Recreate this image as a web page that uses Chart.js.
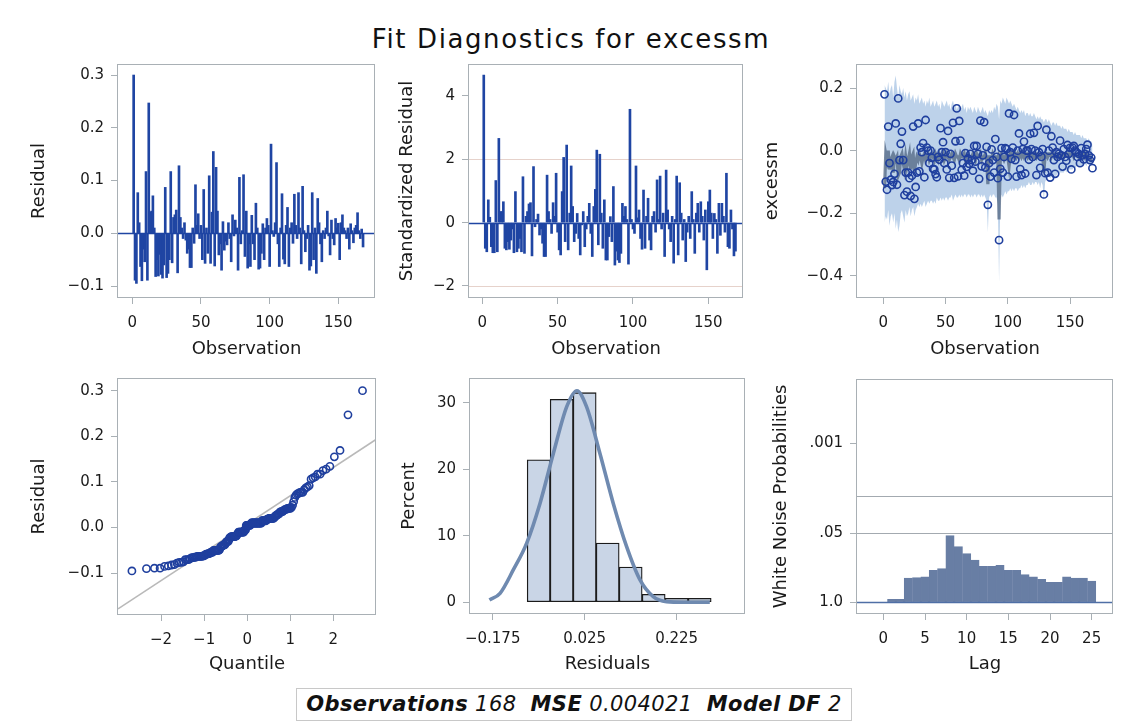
<!DOCTYPE html>
<html><head><meta charset="utf-8">
<script src="https://cdn.jsdelivr.net/npm/chart.js@4/dist/chart.umd.min.js"></script>
<style>
html,body{margin:0;padding:0;background:#fff;width:1128px;height:726px;overflow:hidden;position:relative;font-family:"DejaVu Sans",sans-serif;}
canvas{position:absolute;}
#title{position:absolute;left:0;width:1142px;top:24px;text-align:center;font-size:26px;color:#111;letter-spacing:1.6px;white-space:nowrap;}
#footer{position:absolute;left:296px;top:688px;width:556px;height:33px;border:1px solid #c8c8c8;box-sizing:border-box;font-size:21px;font-style:italic;line-height:31px;text-align:center;white-space:nowrap;color:#111;letter-spacing:0.4px;}
</style></head><body>
<div id="title">Fit Diagnostics for excessm</div>
<canvas id="c1"></canvas><canvas id="c2"></canvas><canvas id="c3"></canvas>
<canvas id="c4"></canvas><canvas id="c5"></canvas><canvas id="c6"></canvas>
<div id="footer"><b>Observations</b> 168&nbsp; <b>MSE</b> 0.004021&nbsp; <b>Model DF</b> 2</div>
<script>
// ---------------- DATA ----------------
const residual = [
0.300,-0.089,-0.095,0.077,0.020,-0.063,-0.090,-0.030,-0.054,0.117,
-0.089,0.247,0.040,0.042,0.071,0.010,-0.082,-0.050,-0.081,-0.040,
-0.078,-0.085,-0.060,0.087,-0.084,-0.076,-0.050,0.117,-0.056,0.030,
0.035,0.044,-0.075,0.128,0.030,0.010,-0.010,0.020,-0.013,-0.038,
-0.030,-0.065,-0.065,0.010,-0.019,0.092,0.015,0.037,-0.010,0.015,
-0.050,0.083,-0.057,0.010,-0.038,0.109,-0.057,0.040,0.155,-0.062,
0.125,0.042,-0.041,-0.020,-0.070,0.022,-0.032,-0.015,-0.022,0.020,
-0.010,-0.054,0.035,-0.005,0.025,0.010,-0.070,0.106,-0.020,0.005,
0.111,-0.044,0.042,-0.066,-0.020,-0.063,0.034,-0.020,-0.050,0.057,
0.010,-0.068,-0.066,-0.038,0.018,-0.050,0.010,0.028,0.015,-0.063,
0.169,0.005,-0.006,0.020,0.134,-0.020,-0.063,0.010,0.075,-0.049,
-0.058,0.015,0.049,-0.063,0.010,0.020,-0.019,0.074,0.015,-0.010,
0.077,0.010,-0.058,0.089,0.005,-0.035,-0.010,0.015,-0.070,-0.062,
0.077,-0.050,0.010,-0.076,0.066,0.020,-0.020,-0.054,0.005,-0.010,
0.010,0.042,-0.005,-0.041,0.025,-0.010,-0.022,0.028,0.010,0.019,
-0.050,0.020,0.035,0.010,0.005,-0.010,0.010,-0.030,0.018,0.005,
-0.018,0.010,0.015,0.039,0.005,-0.010,0.008,-0.026];

const stdResidual = [
4.66,-0.81,-0.92,0.72,0.17,-0.76,-0.95,-0.95,1.33,-0.92,
2.66,0.35,0.35,0.66,-0.81,-0.86,-0.60,-0.84,-0.55,-0.20,
-0.95,0.98,-0.92,-0.81,-0.50,-0.92,1.45,-0.97,0.20,0.35,
0.59,0.63,-1.05,1.77,-0.13,0.10,0.27,-0.39,-0.20,-0.65,
-1.07,-1.07,1.50,0.35,0.10,-0.34,0.63,0.20,1.56,-0.30,
-0.86,-1.02,0.98,2.06,-0.60,2.45,-0.86,0.30,1.79,0.51,
-0.60,-0.34,0.29,-0.50,-1.02,-0.07,0.35,-0.76,-0.20,0.20,
0.61,-0.34,-1.07,0.51,1.05,2.29,-0.70,2.16,0.30,-0.81,
0.72,-1.18,-1.18,-0.44,0.19,-0.60,1.14,-1.34,-0.90,-1.18,
-1.26,-0.97,0.61,0.20,0.51,0.10,-1.31,3.58,0.10,-0.20,
-0.34,1.79,0.15,0.40,-0.50,-0.84,1.03,-0.81,0.20,0.77,
-0.55,-0.86,0.20,0.35,-0.30,1.35,0.10,1.47,-0.20,0.30,
-1.07,1.66,0.40,-0.20,-0.60,0.20,-1.28,0.10,1.47,-1.02,
1.26,0.30,-0.55,0.10,-1.23,-0.30,0.20,-0.50,0.98,0.10,
-0.97,0.30,0.61,-0.30,0.66,0.20,-0.55,0.40,-1.49,0.66,
1.03,0.30,-0.50,0.29,0.10,-0.97,0.61,-0.40,0.61,0.20,
-0.30,1.56,-0.76,-0.81,0.40,-0.20,-1.05,-0.90];

const predicted = [
-0.12,-0.01,-0.03,0.00,-0.06,-0.03,-0.02,-0.07,-0.02,-0.03,
-0.02,-0.08,-0.07,-0.02,-0.01,-0.04,-0.06,-0.02,-0.05,-0.03,
-0.01,-0.06,-0.02,-0.01,-0.07,-0.04,-0.02,-0.03,-0.01,-0.02,
-0.04,-0.02,-0.01,-0.03,-0.02,-0.01,-0.03,-0.02,-0.01,-0.02,
-0.03,-0.01,-0.02,-0.03,-0.01,-0.02,-0.02,-0.01,-0.03,-0.02,
-0.01,-0.02,-0.03,-0.02,-0.01,-0.02,-0.03,-0.01,-0.02,-0.02,
-0.03,-0.01,-0.02,-0.02,-0.01,-0.03,-0.02,-0.01,-0.02,-0.03,
-0.02,-0.01,-0.02,-0.03,-0.01,-0.02,-0.02,-0.01,-0.03,-0.02,
-0.02,-0.01,-0.03,-0.107,-0.02,-0.02,-0.03,-0.01,-0.02,-0.02,
-0.03,-0.02,-0.22,-0.02,-0.01,-0.02,-0.03,-0.02,-0.01,-0.02,
-0.05,-0.01,-0.02,-0.01,-0.02,-0.01,-0.02,-0.01,-0.02,-0.01,
-0.02,-0.01,-0.02,-0.01,-0.01,-0.02,-0.01,-0.02,-0.01,-0.01,
-0.02,-0.01,-0.02,-0.01,-0.01,-0.02,-0.01,-0.01,-0.07,-0.01,
-0.01,-0.02,-0.01,-0.01,-0.02,-0.01,-0.01,-0.02,-0.01,-0.01,
-0.02,-0.01,-0.01,-0.01,-0.02,-0.01,-0.01,-0.01,-0.02,-0.01,
-0.01,-0.01,-0.02,-0.01,-0.01,-0.01,-0.02,-0.01,-0.01,-0.02,
-0.01,-0.02,-0.01,-0.02,-0.02,-0.02,-0.03,-0.03];

const bandUpper = [
0.21,0.20,0.19,0.22,0.18,0.20,0.21,0.17,0.22,0.24,
0.20,0.17,0.21,0.19,0.18,0.20,0.17,0.19,0.16,0.18,
0.19,0.16,0.17,0.18,0.15,0.17,0.16,0.18,0.15,0.16,
0.17,0.15,0.16,0.14,0.16,0.15,0.17,0.14,0.15,0.16,
0.14,0.15,0.16,0.14,0.15,0.13,0.16,0.15,0.14,0.15,
0.16,0.14,0.15,0.13,0.15,0.16,0.14,0.15,0.13,0.14,
0.15,0.13,0.14,0.15,0.13,0.14,0.12,0.14,0.13,0.14,
0.13,0.12,0.14,0.13,0.12,0.14,0.13,0.12,0.13,0.14,
0.12,0.13,0.12,0.11,0.13,0.12,0.13,0.12,0.14,0.13,
0.15,0.14,0.10,0.16,0.15,0.17,0.16,0.15,0.17,0.16,
0.15,0.16,0.15,0.14,0.15,0.14,0.13,0.14,0.13,0.12,
0.13,0.12,0.13,0.11,0.12,0.12,0.11,0.12,0.11,0.11,
0.12,0.11,0.10,0.11,0.10,0.11,0.10,0.10,0.09,0.10,
0.10,0.09,0.10,0.09,0.08,0.09,0.09,0.08,0.09,0.08,
0.08,0.08,0.07,0.08,0.07,0.07,0.07,0.06,0.07,0.06,
0.06,0.06,0.05,0.06,0.05,0.05,0.05,0.05,0.04,0.05,
0.04,0.04,0.04,0.03,0.04,0.03,0.03,0.02];

const bandLower = [
-0.23,-0.21,-0.22,-0.19,-0.24,-0.21,-0.20,-0.23,-0.20,-0.25,
-0.22,-0.26,-0.24,-0.20,-0.19,-0.21,-0.23,-0.19,-0.21,-0.20,
-0.18,-0.21,-0.19,-0.18,-0.21,-0.19,-0.18,-0.17,-0.18,-0.17,
-0.18,-0.17,-0.16,-0.18,-0.17,-0.16,-0.17,-0.16,-0.16,-0.17,
-0.16,-0.17,-0.15,-0.16,-0.16,-0.15,-0.16,-0.15,-0.16,-0.15,
-0.15,-0.16,-0.15,-0.15,-0.14,-0.16,-0.15,-0.14,-0.15,-0.15,
-0.14,-0.15,-0.14,-0.15,-0.14,-0.14,-0.15,-0.14,-0.14,-0.15,
-0.14,-0.15,-0.14,-0.14,-0.15,-0.14,-0.14,-0.15,-0.14,-0.15,
-0.14,-0.15,-0.16,-0.26,-0.15,-0.14,-0.15,-0.14,-0.14,-0.15,
-0.15,-0.17,-0.42,-0.16,-0.14,-0.15,-0.14,-0.13,-0.14,-0.13,
-0.13,-0.12,-0.13,-0.12,-0.13,-0.12,-0.12,-0.13,-0.12,-0.12,
-0.11,-0.12,-0.11,-0.12,-0.11,-0.11,-0.10,-0.11,-0.11,-0.10,
-0.11,-0.10,-0.10,-0.11,-0.10,-0.12,-0.10,-0.11,-0.16,-0.10,
-0.09,-0.09,-0.08,-0.09,-0.08,-0.09,-0.08,-0.08,-0.08,-0.07,
-0.08,-0.07,-0.07,-0.07,-0.07,-0.06,-0.07,-0.06,-0.06,-0.06,
-0.06,-0.06,-0.05,-0.06,-0.05,-0.05,-0.05,-0.05,-0.05,-0.05,
-0.05,-0.04,-0.05,-0.04,-0.04,-0.05,-0.04,-0.05];

const histBinCenters = [-0.075,-0.025,0.025,0.075,0.125,0.175,0.225,0.275];
const histPercent    = [21.4,30.5,31.5,8.9,5.3,1.2,0.6,0.6];
const normCurveX = [-0.182,-0.159,-0.130,-0.101,-0.072,-0.043,-0.014,0.008,0.029,0.058,0.087,0.116,0.145,0.174,0.203,0.240,0.297];
const normCurveY = [0.35,1.35,4.9,8.9,14.9,22.4,29.4,31.8,29.4,22.4,14.9,8.4,3.4,0.85,0.1,0.0,0.0];

const qqRefX = [-3.0, 2.99];
const qqRefY = [-0.178, 0.193];

const lags = [1,2,3,4,5,6,7,8,9,10,11,12,13,14,15,16,17,18,19,20,21,22,23,24,25];
const whiteNoiseP = [0.88,0.88,0.35,0.34,0.33,0.25,0.23,0.055,0.089,0.12,0.16,0.21,0.21,0.20,0.25,0.25,0.30,0.33,0.37,0.42,0.42,0.33,0.35,0.35,0.40];

const obsTicks = [0,50,100,150];           const obsLabels = ['0','50','100','150'];
const p1YTicks = [-0.1,0,0.1,0.2,0.3];     const p1YLabels = ['\u22120.1','0.0','0.1','0.2','0.3'];
const p2YTicks = [-2,0,2,4];               const p2YLabels = ['\u22122','0','2','4'];
const p3YTicks = [-0.4,-0.2,0,0.2];        const p3YLabels = ['\u22120.4','\u22120.2','0.0','0.2'];
const p4XTicks = [-2,-1,0,1,2];            const p4XLabels = ['\u22122','\u22121','0','1','2'];
const p5XTicks = [-0.175,0.025,0.225];     const p5XLabels = ['\u22120.175','0.025','0.225'];
const p5YTicks = [0,10,20,30];             const p5YLabels = ['0','10','20','30'];
const p6XTicks = [0,5,10,15,20,25];        const p6XLabels = ['0','5','10','15','20','25'];
const p6YTicks = [1,0.05,0.001];           const p6YLabels = ['1.0','.05','.001'];

// --------------- STYLE / HELPERS ---------------
const FRAME = '#a9b0b5';
const NEEDLE = '#1f45a3';
const CIRCLE = '#1f3f9e';
const TXT = '#1a1a1a';
const tickFont = {family:'DejaVu Sans', size:15};
const titleFont = {family:'DejaVu Sans', size:18};
const LH = 18*1.2;

const observations = residual.map((_, i) => i + 1);

function invNorm(p){
  const a=[-3.969683028665376e+01,2.209460984245205e+02,-2.759285104469687e+02,1.383577518672690e+02,-3.066479806614716e+01,2.506628277459239e+00];
  const b=[-5.447609879822406e+01,1.615858368580409e+02,-1.556989798598866e+02,6.680131188771972e+01,-1.328068155288572e+01];
  const c=[-7.784894002430293e-03,-3.223964580411365e-01,-2.400758277161838e+00,-2.549671010243726e+00,4.374664141464968e+00,2.938163982698783e+00];
  const d=[7.784695709041462e-03,3.224671290700398e-01,2.445134137142996e+00,3.754408661907416e+00];
  const pl=0.02425, ph=1-pl; let q,r;
  if(p<pl){q=Math.sqrt(-2*Math.log(p));return (((((c[0]*q+c[1])*q+c[2])*q+c[3])*q+c[4])*q+c[5])/((((d[0]*q+d[1])*q+d[2])*q+d[3])*q+1);}
  if(p<=ph){q=p-0.5;r=q*q;return (((((a[0]*r+a[1])*r+a[2])*r+a[3])*r+a[4])*r+a[5])*q/(((((b[0]*r+b[1])*r+b[2])*r+b[3])*r+b[4])*r+1);}
  q=Math.sqrt(-2*Math.log(1-p));return -(((((c[0]*q+c[1])*q+c[2])*q+c[3])*q+c[4])*q+c[5])/((((d[0]*q+d[1])*q+d[2])*q+d[3])*q+1);
}

const framePlugin = {
  id:'frame',
  beforeDatasetsDraw(chart, args, opts){
    const {ctx, chartArea:a} = chart;
    ctx.save();
    (opts.under||[]).forEach(h => {
      const y = Math.round(chart.scales.y.getPixelForValue(h.value)) + 0.5;
      ctx.strokeStyle = h.color; ctx.lineWidth = h.width || 1;
      ctx.beginPath(); ctx.moveTo(a.left, y); ctx.lineTo(a.right, y); ctx.stroke();
    });
    ctx.restore();
  },
  afterDatasetsDraw(chart, args, opts){
    const {ctx, chartArea:a} = chart;
    ctx.save();
    (opts.over||[]).forEach(h => {
      const y = Math.round(chart.scales.y.getPixelForValue(h.value)) + 0.5;
      ctx.strokeStyle = h.color; ctx.lineWidth = h.width || 1;
      ctx.beginPath(); ctx.moveTo(a.left, y); ctx.lineTo(a.right, y); ctx.stroke();
    });
    ctx.strokeStyle = FRAME; ctx.lineWidth = 1;
    ctx.strokeRect(Math.round(a.left)-0.5, Math.round(a.top)+0.5, Math.round(a.right-a.left), Math.round(a.bottom-a.top)-1);
    ctx.restore();
  }
};

function axis(pos, min, max, vals, labels, title, fixed, extra){
  const horiz = pos === 'bottom';
  return Object.assign({
    type:'linear', position:pos, min, max, offset:false,
    afterFit: s => { if (horiz) s.height = fixed; else s.width = fixed; },
    afterBuildTicks: s => { s.ticks = vals.map(v => ({value:v})); },
    ticks:{ callback:(v,i)=>labels[i], font:tickFont, color:TXT, padding: horiz ? 10 : 7, maxRotation:0, autoSkip:false },
    grid:{ drawOnChartArea:false, drawTicks:true, tickLength: horiz ? 6 : 7, color:FRAME, offset:false },
    border:{ display:false },
    title:{ display:true, text:title, font:titleFont, color:TXT, padding:0 }
  }, extra || {});
}

function place(id, f, yTitleX, xTitleY){
  const cv = document.getElementById(id);
  const left = Math.round(yTitleX - LH/2);
  const top = f.T - 2;
  const w = f.R - left + 2;
  const h = Math.round(xTitleY + LH/2) - top;
  cv.style.left = left+'px'; cv.style.top = top+'px';
  cv.width = w; cv.height = h; cv.style.width = w+'px'; cv.style.height = h+'px';
  return {cv, top, w, h, W: f.L - left, H: h - (f.B - top)};
}
// keep the plot area on the reference frame even if the library adds top padding
function fixTop(chart, g){
  const d = Math.round(chart.chartArea.top - 2);
  if (d > 0) {
    g.cv.style.top = (g.top - d) + 'px';
    chart.resize(g.w, g.h + d);
  }
}

const common = {
  responsive:false, maintainAspectRatio:false, animation:false, devicePixelRatio:1, events:[],
  layout:{ padding:{top:2,right:2,left:0,bottom:0}, autoPadding:false }
};
function opts(scales, frameOpts){
  return Object.assign({}, common, { scales, plugins:{ legend:{display:false}, tooltip:{enabled:false}, frame: frameOpts || {} } });
}

// ---------- Panel 1: Residual by observation ----------
(function(){
  const g = place('c1', {L:118,T:64,R:375,B:298}, 40, 349);
  const ch = new Chart(g.cv, { type:'bar', plugins:[framePlugin],
    data:{ datasets:[{ data: observations.map((o,i)=>({x:o, y:residual[i]})), backgroundColor:NEEDLE, barThickness:2, borderWidth:0 }]},
    options: opts({
      x: axis('bottom', -10.4, 176.7, obsTicks, obsLabels, 'Observation', g.H),
      y: axis('left', -0.1227, 0.3209, p1YTicks, p1YLabels, 'Residual', g.W)
    }, {under:[{value:0,color:NEEDLE,width:1.5}]})
  });
  fixTop(ch, g);
})();

// ---------- Panel 2: Standardized residual ----------
(function(){
  const g = place('c2', {L:469,T:64,R:743,B:298}, 408, 349);
  const ch = new Chart(g.cv, { type:'bar', plugins:[framePlugin],
    data:{ datasets:[{ data: observations.map((o,i)=>({x:o, y:stdResidual[i]})), backgroundColor:NEEDLE, barThickness:2, borderWidth:0 }]},
    options: opts({
      x: axis('bottom', -8.8, 173.0, obsTicks, obsLabels, 'Observation', g.H),
      y: axis('left', -2.38, 5.01, p2YTicks, p2YLabels, 'Standardized Residual', g.W)
    }, {under:[{value:2,color:'#e6d2cb'},{value:-2,color:'#e6d2cb'},{value:0,color:NEEDLE,width:1.5}]})
  });
  fixTop(ch, g);
})();

// ---------- Panel 3: excessm with predicted and band ----------
(function(){
  const g = place('c3', {L:857,T:64,R:1113,B:298}, 773, 349);
  const excessm = predicted.map((p,i)=>p+residual[i]);
  const ch = new Chart(g.cv, { type:'scatter', plugins:[framePlugin],
    data:{ datasets:[
      { data: observations.map((o,i)=>({x:o,y:excessm[i]})), showLine:false, pointRadius:3.6, pointBorderWidth:1.6,
        pointBorderColor:CIRCLE, pointBackgroundColor:'rgba(0,0,0,0)', order:0 },
      { data: observations.map((o,i)=>({x:o,y:predicted[i]})), showLine:true, borderColor:'rgba(75,95,125,0.72)', borderWidth:3.2, pointRadius:0, order:1 },
      { data: observations.map((o,i)=>({x:o,y:bandLower[i]})), showLine:true, borderWidth:0, borderColor:'rgba(0,0,0,0)', pointRadius:0, fill:false, order:3 },
      { data: observations.map((o,i)=>({x:o,y:bandUpper[i]})), showLine:true, borderWidth:0, borderColor:'rgba(0,0,0,0)', pointRadius:0, fill:'-1', backgroundColor:'rgba(163,192,226,0.72)', order:2 }
    ]},
    options: opts({
      x: axis('bottom', -21.1, 184.5, obsTicks, obsLabels, 'Observation', g.H),
      y: axis('left', -0.471, 0.277, p3YTicks, p3YLabels, 'excessm', g.W)
    })
  });
  fixTop(ch, g);
})();

// ---------- Panel 4: Q-Q plot ----------
(function(){
  const g = place('c4', {L:118,T:378,R:376,B:615}, 40, 664);
  const n = residual.length;
  const sorted = residual.slice().sort((a,b)=>a-b);
  const qq = sorted.map((v,i)=>({x: invNorm((i+1-0.375)/(n+0.25)), y:v}));
  const ch = new Chart(g.cv, { type:'scatter', plugins:[framePlugin],
    data:{ datasets:[
      { data: qq, showLine:false, pointRadius:3.6, pointBorderWidth:1.6, pointBorderColor:CIRCLE, pointBackgroundColor:'rgba(0,0,0,0)', order:0 },
      { data: qqRefX.map((x,i)=>({x, y:qqRefY[i]})), showLine:true, borderColor:'#b9b9b9', borderWidth:1.6, pointRadius:0, order:1 }
    ]},
    options: opts({
      x: axis('bottom', -3.0, 2.99, p4XTicks, p4XLabels, 'Quantile', g.H),
      y: axis('left', -0.1915, 0.3277, p1YTicks, p1YLabels, 'Residual', g.W)
    })
  });
  fixTop(ch, g);
})();

// ---------- Panel 5: Histogram ----------
(function(){
  const g = place('c5', {L:470,T:378,R:745,B:614}, 410, 664);
  const ch = new Chart(g.cv, { type:'bar', plugins:[framePlugin],
    data:{ datasets:[
      { type:'line', data: normCurveX.map((x,i)=>({x,y:normCurveY[i]})), borderColor:'#6f8ab0', borderWidth:3.6, pointRadius:0, tension:0.4, cubicInterpolationMode:'monotone', order:0 },
      { data: histBinCenters.map((x,i)=>({x,y:histPercent[i]})), backgroundColor:'#c9d5e6', borderColor:'#1b1b1b', borderWidth:1.3, borderSkipped:false,
        categoryPercentage:1, barPercentage:1, order:1 }
    ]},
    options: opts({
      x: axis('bottom', -0.2243, 0.3735, p5XTicks, p5XLabels, 'Residuals', g.H),
      y: axis('left', -1.76, 33.71, p5YTicks, p5YLabels, 'Percent', g.W)
    })
  });
  fixTop(ch, g);
})();

// ---------- Panel 6: White noise probabilities ----------
(function(){
  const g = place('c6', {L:857,T:379,R:1113,B:614}, 782, 664);
  const ch = new Chart(g.cv, { type:'bar', plugins:[framePlugin],
    data:{ datasets:[
      { data: lags.map((l,i)=>({x:l, y:[1, whiteNoiseP[i]]})), backgroundColor:'#687ea4', borderColor:'#687ea4', borderWidth:0.8, borderSkipped:false,
        categoryPercentage:1, barPercentage:1 }
    ]},
    options: opts({
      x: axis('bottom', -3.16, 27.56, p6XTicks, p6XLabels, 'Lag', g.H),
      y: axis('left', 6.12e-5, 1.663, p6YTicks, p6YLabels, 'White Noise Probabilities', g.W, {type:'logarithmic', reverse:true})
    }, {over:[{value:0.05,color:'#a3aab0'},{value:0.01,color:'#a3aab0'},{value:1,color:'#4f6fa6',width:1.5}]})
  });
  fixTop(ch, g);
})();
</script>
</body></html>
